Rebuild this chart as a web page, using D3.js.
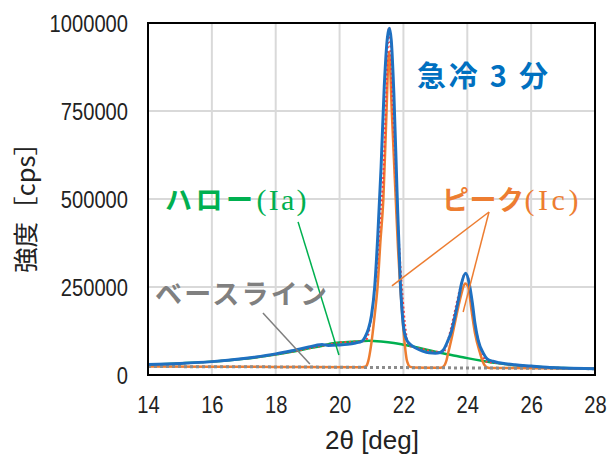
<!DOCTYPE html>
<html>
<head>
<meta charset="utf-8">
<script src="https://cdn.jsdelivr.net/npm/d3@7"></script>
<style>
  html, body { margin: 0; padding: 0; background: #fff; }
  svg { display: block; }
</style>
</head>
<body>
<svg id="chart" width="610" height="454"></svg>
<script>
// X-ray diffraction profile of the quenched (3 min) sample with its fitted components.

const xTicks = [14, 16, 18, 20, 22, 24, 26, 28];
const yTicks = [0, 250000, 500000, 750000, 1000000];

// Measured intensity
const measuredX = [14.0, 15.0, 16.0, 17.0, 18.0, 18.5, 19.0, 19.25, 19.45, 19.65, 19.95, 20.25, 20.5, 20.7, 20.8, 20.9, 21.0, 21.1, 21.2, 21.3, 21.4, 21.5, 21.56, 21.62, 21.7, 21.8, 21.9, 22.0, 22.1, 22.2, 22.4, 22.6, 22.8, 23.0, 23.15, 23.25, 23.4, 23.5, 23.6, 23.72, 23.82, 23.95, 24.06, 24.16, 24.24, 24.34, 24.5, 24.62, 24.8, 25.0, 25.2, 25.5, 26.0, 26.5, 27.0, 28.0];
const measuredY = [30000, 33000, 38000, 47000, 60000, 69000, 79000, 84000, 87000, 84000, 85000, 87000, 91000, 96000, 108000, 130000, 170000, 250000, 400000, 590000, 820000, 960000, 985000, 950000, 800000, 520000, 270000, 140000, 100000, 88000, 76000, 68000, 63000, 62000, 64000, 71000, 99000, 123000, 161000, 213000, 260000, 289000, 260000, 204000, 147000, 99000, 62000, 46000, 39000, 35000, 32000, 29000, 25500, 22000, 20000, 18000];

// Halo component (amorphous, Ia) on top of the baseline
const haloX = [14.0, 15.0, 16.0, 17.0, 18.0, 18.5, 19.0, 19.5, 19.7, 20.0, 20.5, 20.9, 21.3, 21.7, 22.05, 22.4, 22.67, 23.0, 23.5, 24.0, 24.5, 25.0, 25.5, 26.0, 26.5, 27.0, 28.0];
const haloY = [29000, 33000, 38000, 46000, 58000, 66000, 75000, 84000, 89000, 92000, 95000, 97000, 95000, 91000, 85000, 79000, 73000, 66000, 57000, 48000, 40000, 33000, 27500, 24000, 21500, 20000, 18000];

// Crystalline peaks (Ic) on top of the baseline
const peakX = [14.0, 18.0, 20.7, 20.8, 20.85, 20.9, 20.98, 21.1, 21.19, 21.28, 21.37, 21.46, 21.55, 21.64, 21.76, 21.83, 21.9, 21.98, 22.05, 22.1, 22.15, 22.2, 22.3, 23.1, 23.2, 23.25, 23.3, 23.35, 23.4, 23.5, 23.61, 23.72, 23.82, 23.93, 24.03, 24.13, 24.24, 24.4, 24.5, 24.55, 24.6, 24.7, 28.0];
const peakY = [24000, 23000, 22000, 23500, 27000, 40000, 80000, 170000, 251000, 380000, 497000, 720000, 918000, 740000, 497000, 360000, 251000, 150000, 80000, 45000, 30000, 23500, 21500, 20600, 21500, 24000, 30000, 42000, 62000, 100000, 147000, 194000, 232000, 260000, 250000, 185000, 119000, 62000, 35000, 27000, 22500, 20200, 18000];

// Sum of the fitted components
const fitX = [14.0, 16.0, 18.0, 19.0, 19.5, 20.0, 20.5, 20.8, 20.9, 20.98, 21.1, 21.19, 21.28, 21.37, 21.46, 21.55, 21.64, 21.76, 21.83, 21.9, 21.98, 22.05, 22.1, 22.15, 22.2, 22.6, 23.0, 23.25, 23.3, 23.4, 23.5, 23.61, 23.72, 23.82, 23.93, 24.03, 24.13, 24.24, 24.4, 24.5, 24.58, 25.0, 25.5, 26.0, 27.0, 28.0];
const fitY = [29000, 38000, 58000, 75000, 84000, 92000, 95000, 97000, 115000, 155000, 244000, 325000, 453000, 570000, 792000, 989000, 810000, 566000, 428000, 318000, 215000, 144000, 108000, 87000, 82000, 74000, 66000, 65500, 70500, 100500, 136500, 181500, 226000, 262000, 287500, 275500, 209000, 141500, 82000, 53000, 38500, 33000, 27500, 24000, 20000, 18000];

// Background baseline
const baseX = [14.0, 18.0, 21.0, 24.0, 28.0];
const baseY = [24000, 23000, 21500, 20000, 18000];

const svg = d3.select("#chart");
const plot = { left: 148, right: 595, top: 23, bottom: 375 };

const x = d3.scaleLinear().domain([14, 28]).range([plot.left, plot.right]);
const y = d3.scaleLinear().domain([0, 1000000]).range([plot.bottom, plot.top]);

const tickFont = "'Liberation Sans', Arial, sans-serif";
const jpFont = "'Noto Sans CJK JP', 'Noto Sans', sans-serif";

// Grid
const grid = svg.append("g").attr("class", "grid");
grid.selectAll("line.v").data(xTicks.slice(1, -1)).join("line")
  .attr("class", "v")
  .attr("x1", d => x(d)).attr("x2", d => x(d))
  .attr("y1", plot.top).attr("y2", plot.bottom)
  .attr("stroke", "#d9d9d9").attr("stroke-width", 2);
grid.selectAll("line.h").data(yTicks.slice(1, -1)).join("line")
  .attr("class", "h")
  .attr("x1", plot.left).attr("x2", plot.right)
  .attr("y1", d => y(d)).attr("y2", d => y(d))
  .attr("stroke", "#d9d9d9").attr("stroke-width", 2);

// Axes (labels only, no tick marks); digits drawn slightly condensed
const xAxis = d3.axisBottom(x).tickValues(xTicks).tickSize(0).tickPadding(20).tickFormat(d3.format("d"));
const yAxis = d3.axisLeft(y).tickValues(yTicks).tickSize(0).tickPadding(20).tickFormat(d3.format("d"));

const gx = svg.append("g").attr("transform", `translate(0,${plot.bottom})`).call(xAxis);
const gy = svg.append("g").attr("transform", `translate(${plot.left},0)`).call(yAxis);
[gx, gy].forEach(g => {
  g.select(".domain").remove();
  g.selectAll("text")
    .attr("font-family", tickFont).attr("font-size", 23.5).attr("fill", "#222")
    .attr("lengthAdjust", "spacingAndGlyphs")
    .attr("textLength", function () { return this.textContent.length * 11.2; });
});
gx.selectAll("text").attr("dy", "0.75em");
gy.selectAll("text").attr("dy", "0.36em");

// Series
const line = d3.line().x(d => x(d[0])).y(d => y(d[1])).curve(d3.curveMonotoneX);
const zip = (xs, ys) => xs.map((v, i) => [v, ys[i]]);

svg.append("clipPath").attr("id", "plotclip").append("rect")
  .attr("x", plot.left).attr("y", plot.top)
  .attr("width", plot.right - plot.left).attr("height", plot.bottom - plot.top);

const series = svg.append("g").attr("clip-path", "url(#plotclip)");

series.append("path").datum(zip(haloX, haloY)).attr("d", line)
  .attr("fill", "none").attr("stroke", "#00b050").attr("stroke-width", 2.5);
series.append("path").datum(zip(peakX, peakY)).attr("d", line)
  .attr("fill", "none").attr("stroke", "#ed7d31").attr("stroke-width", 2.5);
series.append("path").datum(zip(baseX, baseY)).attr("d", line)
  .attr("fill", "none").attr("stroke", "#8c8c8c").attr("stroke-width", 3)
  .attr("stroke-dasharray", "3,3");
series.append("path").datum(zip(fitX, fitY)).attr("d", line)
  .attr("fill", "none").attr("stroke", "#ff3b3b").attr("stroke-width", 2)
  .attr("stroke-dasharray", "2,2.5");
series.append("path").datum(zip(measuredX, measuredY)).attr("d", line)
  .attr("fill", "none").attr("stroke", "#1f70c1").attr("stroke-width", 3)
  .attr("stroke-linejoin", "round");

// Frame
svg.append("rect")
  .attr("x", plot.left).attr("y", plot.top)
  .attr("width", plot.right - plot.left).attr("height", plot.bottom - plot.top)
  .attr("fill", "none").attr("stroke", "#000").attr("stroke-width", 2);

// Annotations
const ann = svg.append("g");
function leader(p0, p1, color) {
  ann.append("line")
    .attr("x1", x(p0[0])).attr("y1", y(p0[1]))
    .attr("x2", x(p1[0])).attr("y2", y(p1[1]))
    .attr("stroke", color).attr("stroke-width", 1.5);
}
leader([17.6, 176000], [19.07, 31000], "#7f7f7f");
leader([18.7, 435000], [19.98, 57000], "#00b050");
leader([24.68, 463000], [21.64, 253000], "#ed7d31");
leader([24.68, 463000], [23.87, 179000], "#ed7d31");

function label(px, py, jp, latin, color, jpWidth, latinWidth) {
  const t = ann.append("text").attr("x", px).attr("y", py).attr("fill", color);
  t.append("tspan").attr("font-family", jpFont).attr("font-weight", 700).attr("font-size", 27)
    .attr("textLength", jpWidth).attr("lengthAdjust", "spacing").text(jp);
  if (latin) {
    t.append("tspan").attr("font-family", "'Liberation Serif', 'DejaVu Serif', serif")
      .attr("font-weight", 400).attr("font-size", 30)
      .attr("textLength", latinWidth).attr("lengthAdjust", "spacing").text(latin);
  }
}
label(165, 210, "ハロー", "(Ia)", "#00b050", 88, 50);
label(442, 210, "ピーク", "(Ic)", "#ed7d31", 82, 54);
label(155, 304, "ベースライン", null, "#808080", 172, 0);

// Title inside the plot
ann.append("text").attr("x", 417).attr("y", 87)
  .attr("font-family", jpFont).attr("font-weight", 700).attr("font-size", 29)
  .attr("fill", "#0070c0").attr("textLength", 131).attr("lengthAdjust", "spacing")
  .text("急冷 3 分");

// Axis titles
svg.append("text").attr("x", 372).attr("y", 449).attr("text-anchor", "middle")
  .attr("font-family", "'Liberation Sans', Arial, sans-serif").attr("font-size", 26).attr("fill", "#222")
  .text("2θ [deg]");
svg.append("text").attr("transform", "translate(35,201.5) rotate(-90)").attr("text-anchor", "middle")
  .attr("font-family", jpFont).attr("font-size", 25).attr("fill", "#222")
  .attr("textLength", 143).attr("lengthAdjust", "spacingAndGlyphs")
  .text("強度［cps］");
</script>
</body>
</html>
